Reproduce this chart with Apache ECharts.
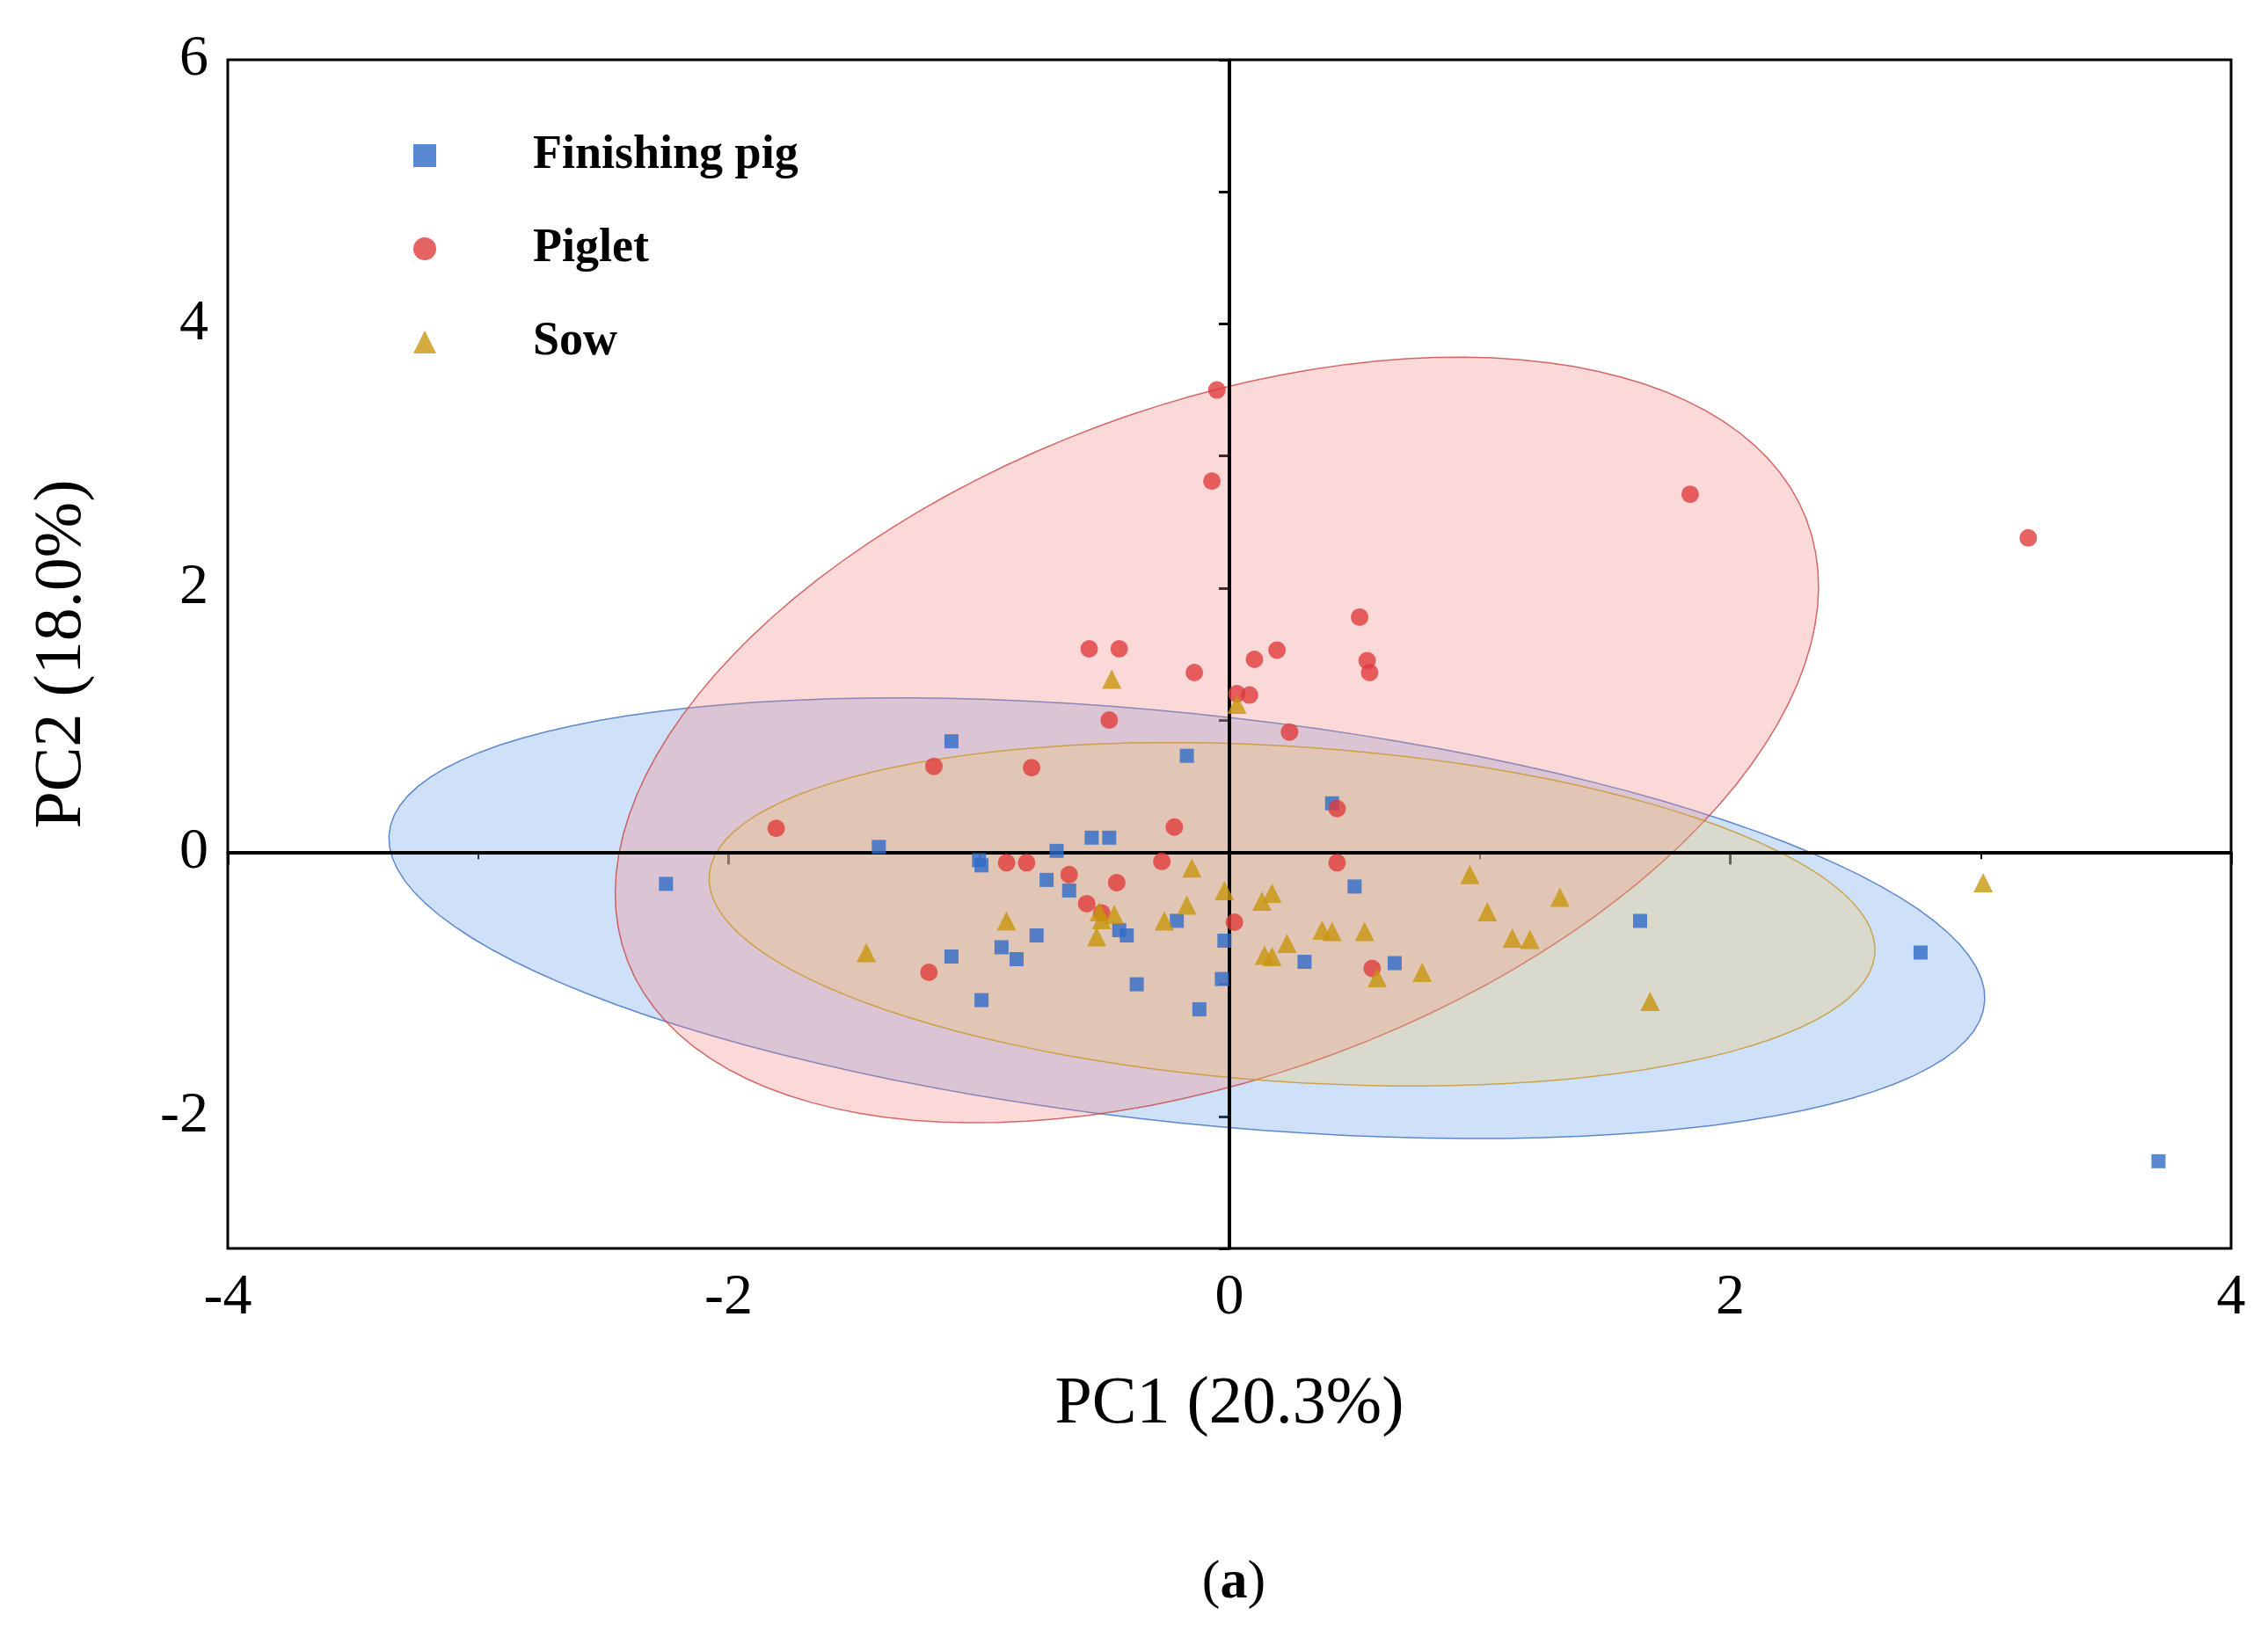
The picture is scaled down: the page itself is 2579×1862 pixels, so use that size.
<!DOCTYPE html>
<html><head><meta charset="utf-8">
<script src="https://cdn.jsdelivr.net/npm/echarts@6/dist/echarts.min.js"></script>
<style>html,body{margin:0;padding:0;background:#fff}#main{width:2579px;height:1862px}</style>
</head><body><div id="main"></div>
<script>
// scores [PC1, PC2]
var finishing = [[-2.25,-0.24],[-1.11,0.84],[-0.17,0.73],[0.41,0.37],[-1.40,0.04],[-0.55,0.11],[-0.48,0.11],
  [-0.69,0.01],[-1.00,-0.06],[-0.99,-0.10],[0.50,-0.26],[-0.73,-0.21],[-0.64,-0.29],[-0.44,-0.59],[-0.41,-0.63],
  [-0.21,-0.52],[-0.77,-0.63],[-0.91,-0.72],[-0.85,-0.81],[-1.11,-0.79],[-0.37,-1.00],[-0.02,-0.67],[-0.03,-0.96],
  [0.30,-0.83],[0.66,-0.84],[-0.12,-1.19],[-0.99,-1.12],[1.64,-0.52],[2.76,-0.76],[3.71,-2.34]];
var piglet = [[1.84,2.71],[3.19,2.38],[-0.05,3.50],[-0.07,2.81],[-0.56,1.54],[-0.44,1.54],[0.52,1.78],[0.19,1.53],
  [0.10,1.46],[-0.14,1.36],[0.55,1.45],[0.56,1.36],[0.03,1.20],[0.08,1.19],[-0.48,1.00],[0.24,0.91],[-1.18,0.65],
  [-0.79,0.64],[0.43,0.33],[-1.81,0.18],[-0.22,0.19],[-0.64,-0.17],[-0.45,-0.23],[-0.89,-0.08],[-0.81,-0.08],
  [-0.27,-0.07],[-0.57,-0.39],[-0.51,-0.46],[0.02,-0.53],[0.43,-0.08],[0.57,-0.88],[-1.20,-0.91]];
var sow = [[-0.47,1.31],[0.03,1.12],[3.01,-0.23],[1.68,-1.13],[0.96,-0.17],[1.32,-0.34],[1.03,-0.45],[1.13,-0.65],
  [1.20,-0.66],[-0.15,-0.12],[-0.02,-0.29],[0.17,-0.31],[0.13,-0.37],[-0.17,-0.40],[-0.26,-0.52],[-0.52,-0.45],
  [-0.46,-0.47],[-0.51,-0.51],[-0.89,-0.52],[-0.53,-0.64],[-1.45,-0.76],[0.37,-0.59],[0.41,-0.60],[0.54,-0.60],
  [0.23,-0.69],[0.14,-0.78],[0.17,-0.79],[0.59,-0.95],[0.77,-0.91]];
// confidence ellipses: [cx, cy, semi-major, semi-minor, angle deg] in data units
var ellFinishing = [-0.17,-0.50,3.26,1.52,-13.8];
var ellPiglet = [-0.05,0.85,3.19,2.00,57.6];
var ellSow = [0.25,-0.47,2.35,1.26,-9.3];
var yLabels = [-2,0,2,4,6];

var font = 'Liberation Serif';

function ellipseSeries(e, fill, stroke, z){
  return {
    type:'custom', silent:true, z:z, data:[[e[0],e[1]]],
    renderItem:function(params, api){
      var pts = [], t = e[4]*Math.PI/180;
      for (var i=0;i<120;i++){
        var u = i/120*2*Math.PI;
        var x = e[0] + e[2]*Math.cos(u)*Math.cos(t) - e[3]*Math.sin(u)*Math.sin(t);
        var y = e[1] + e[2]*Math.cos(u)*Math.sin(t) + e[3]*Math.sin(u)*Math.cos(t);
        pts.push(api.coord([x,y]));
      }
      return {type:'polygon', shape:{points:pts}, style:{fill:fill, stroke:stroke, lineWidth:1.5}};
    }
  };
}

var chart = echarts.init(document.getElementById('main'));
chart.setOption({
  animation:false,
  title:{text:'({a|a})', left:1398, textAlign:'center', top:1765,
    textStyle:{fontFamily:font, fontSize:62, fontWeight:'normal', color:'#000',
      rich:{a:{fontFamily:font, fontSize:62, fontWeight:'bold'}}}},
  legend:{orient:'vertical', left:465, top:145, itemGap:52, itemWidth:26, itemHeight:26,
    data:['Finishing pig','Piglet','Sow'],
    textStyle:{fontFamily:font, fontSize:54, fontWeight:'bold', color:'#000', padding:[0,0,0,105]}},
  grid:{left:259, right:42, top:68, bottom:442, show:true, borderColor:'#000', borderWidth:3},
  xAxis:{type:'value', min:-4, max:4, interval:2, name:'PC1 (20.3%)', nameLocation:'middle', nameGap:140,
    nameTextStyle:{fontFamily:font, fontSize:76, color:'#000'},
    axisLine:{lineStyle:{color:'#000', width:3}},
    axisTick:{length:14, lineStyle:{width:3}},
    minorTick:{show:true, splitNumber:2, length:8, lineStyle:{color:'#000', width:2}},
    splitLine:{show:false},
    axisLabel:{fontFamily:font, fontSize:66, color:'#000', margin:24}},
  yAxis:{type:'value', min:-3, max:6, interval:1, name:'PC2 (18.0%)', nameLocation:'middle', nameGap:150,
    nameTextStyle:{fontFamily:font, fontSize:76, color:'#000'},
    axisLine:{lineStyle:{color:'#000', width:3}},
    axisTick:{length:12, lineStyle:{width:3}},
    splitLine:{show:false},
    axisLabel:{fontFamily:font, fontSize:66, color:'#000', margin:22, customValues:yLabels}},
  series:[
    ellipseSeries(ellFinishing,'rgba(110,165,235,0.33)','rgba(60,110,190,0.8)',1),
    ellipseSeries(ellPiglet,'rgba(245,130,130,0.30)','rgba(200,70,70,0.8)',2),
    ellipseSeries(ellSow,'rgba(240,200,110,0.30)','rgba(200,150,40,0.8)',3),
    {name:'Finishing pig', type:'scatter', symbol:'rect', symbolSize:16, z:5, data:finishing,
      itemStyle:{color:'#2f6cc8'},
      markLine:{silent:true, symbol:'none', label:{show:false}, lineStyle:{color:'#000', width:4, type:'solid'},
        data:[{xAxis:0},{yAxis:0}]}},
    {name:'Piglet', type:'scatter', symbol:'circle', symbolSize:20, z:5, data:piglet, itemStyle:{color:'#e03c3c'}},
    {name:'Sow', type:'scatter', symbol:'triangle', symbolSize:22, z:5, data:sow, itemStyle:{color:'#c8960e'}}
  ]
});
</script></body></html>
